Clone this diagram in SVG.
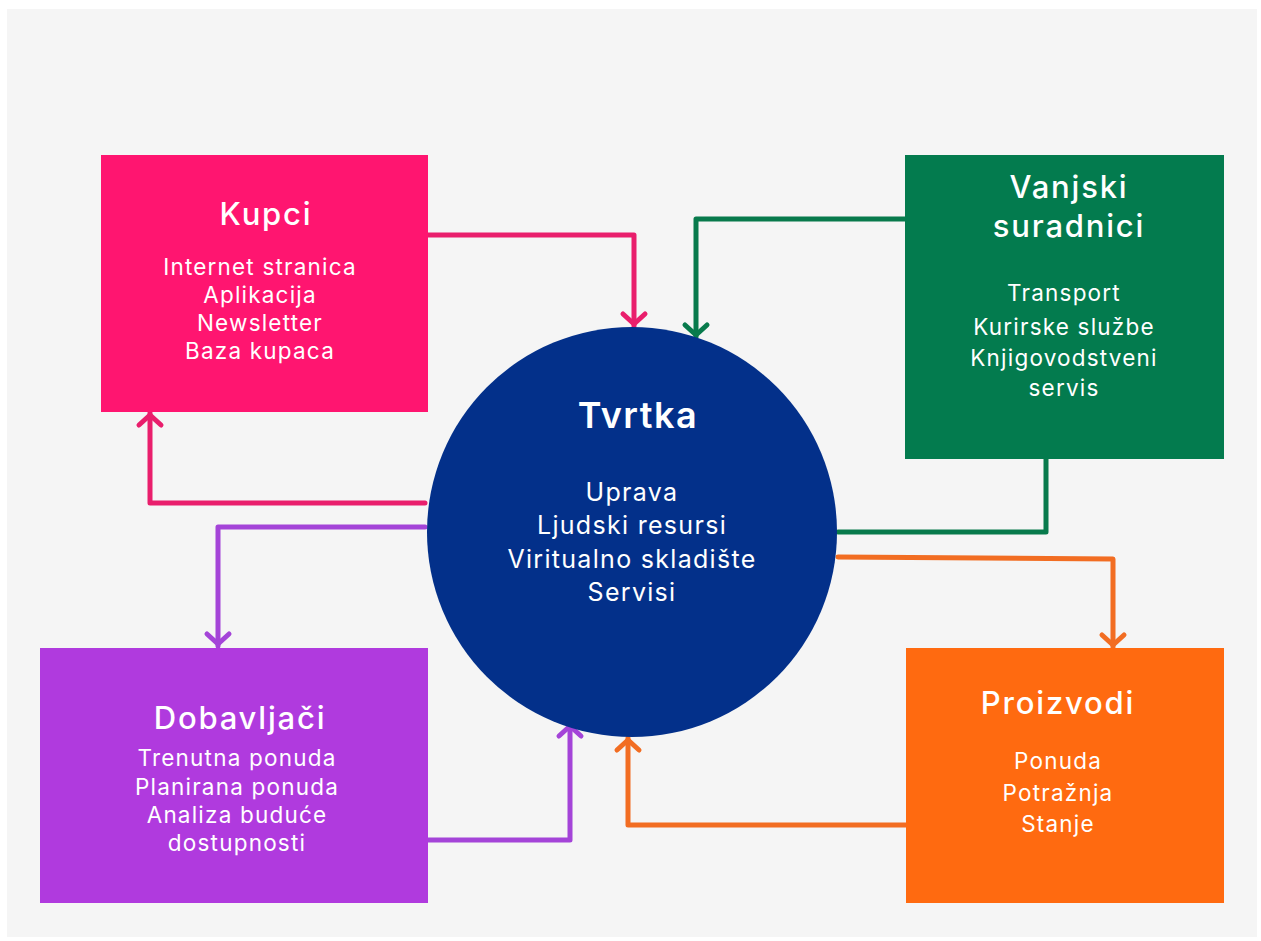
<svg xmlns="http://www.w3.org/2000/svg" width="1261" height="941" viewBox="0 0 1261 941">
<style>
.t{font-family:Inter,"Open Sans","Liberation Sans",sans-serif;fill:#fff;text-anchor:middle}
.h{font-size:31px;font-weight:500;letter-spacing:1.8px}
.b{font-size:22.5px;font-weight:400;letter-spacing:1.2px}
.m{font-size:25px;letter-spacing:1.3px}
.c{fill:none;stroke-width:5;stroke-linejoin:round;stroke-linecap:round}
</style>
<defs>
<marker id="mp" markerUnits="userSpaceOnUse" viewBox="-16 -16 20 32" refX="0" refY="0" markerWidth="20" markerHeight="32" orient="auto"><path d="M-12,-11 L-2,0 L-12,11" fill="none" stroke="#e91e6c" stroke-width="5" stroke-linecap="round" stroke-linejoin="round"/></marker>
<marker id="mg" markerUnits="userSpaceOnUse" viewBox="-16 -16 20 32" refX="0" refY="0" markerWidth="20" markerHeight="32" orient="auto"><path d="M-12,-11 L-2,0 L-12,11" fill="none" stroke="#087a4c" stroke-width="5" stroke-linecap="round" stroke-linejoin="round"/></marker>
<marker id="mv" markerUnits="userSpaceOnUse" viewBox="-16 -16 20 32" refX="0" refY="0" markerWidth="20" markerHeight="32" orient="auto"><path d="M-12,-11 L-2,0 L-12,11" fill="none" stroke="#a444d8" stroke-width="5" stroke-linecap="round" stroke-linejoin="round"/></marker>
<marker id="mo" markerUnits="userSpaceOnUse" viewBox="-16 -16 20 32" refX="0" refY="0" markerWidth="20" markerHeight="32" orient="auto"><path d="M-12,-11 L-2,0 L-12,11" fill="none" stroke="#f26d22" stroke-width="5" stroke-linecap="round" stroke-linejoin="round"/></marker>
</defs>
<rect x="0" y="0" width="1261" height="941" fill="#ffffff"/>
<rect x="7" y="9" width="1250" height="928" fill="#f5f5f5"/>

<g id="connectors">
<path class="c" stroke="#e91e6c" d="M428,235 H634 V326" marker-end="url(#mp)"/>
<path class="c" stroke="#e91e6c" d="M425,503 H150 V413" marker-end="url(#mp)"/>
<path class="c" stroke="#a444d8" d="M425,527 H218 V646" marker-end="url(#mv)"/>
<path class="c" stroke="#a444d8" d="M428,840 H570 V724" marker-end="url(#mv)"/>
<path class="c" stroke="#087a4c" d="M906,219 H696 V337" marker-end="url(#mg)"/>
<path class="c" stroke="#087a4c" d="M838,532 H1046 V459"/>
<path class="c" stroke="#f26d22" d="M838,557 L1113,559 V647" marker-end="url(#mo)"/>
<path class="c" stroke="#f26d22" d="M906,825 H628 V738" marker-end="url(#mo)"/>
</g>

<g id="kupci">
<rect x="101" y="155" width="327" height="257" fill="#ff1570"/>
<text class="t h" x="266" y="225">Kupci</text>
<text class="t b" x="260" y="275">Internet stranica</text>
<text class="t b" x="260" y="303">Aplikacija</text>
<text class="t b" x="260" y="331">Newsletter</text>
<text class="t b" x="260" y="359">Baza kupaca</text>
</g>

<g id="vanjski">
<rect x="905" y="155" width="319" height="304" fill="#037b4e"/>
<text class="t h" x="1069" y="198">Vanjski</text>
<text class="t h" x="1069" y="237">suradnici</text>
<text class="t b" x="1064" y="301">Transport</text>
<text class="t b" x="1064" y="335">Kurirske službe</text>
<text class="t b" x="1064" y="366">Knjigovodstveni</text>
<text class="t b" x="1064" y="396">servis</text>
</g>

<g id="tvrtka">
<circle cx="632" cy="532" r="205" fill="#03308a"/>
<text class="t" x="638" y="428" font-size="36" font-weight="600" letter-spacing="1.5">Tvrtka</text>
<text class="t b m" x="632" y="501">Uprava</text>
<text class="t b m" x="632" y="534">Ljudski resursi</text>
<text class="t b m" x="632" y="568">Viritualno skladište</text>
<text class="t b m" x="632" y="601">Servisi</text>
</g>

<g id="dobavljaci">
<rect x="40" y="648" width="388" height="255" fill="#b03ade"/>
<text class="t h" x="240" y="729">Dobavljači</text>
<text class="t b" x="237" y="766">Trenutna ponuda</text>
<text class="t b" x="237" y="795">Planirana ponuda</text>
<text class="t b" x="237" y="823">Analiza buduće</text>
<text class="t b" x="237" y="851">dostupnosti</text>
</g>

<g id="proizvodi">
<rect x="906" y="648" width="318" height="255" fill="#ff6a10"/>
<text class="t h" x="1058" y="714">Proizvodi</text>
<text class="t b" x="1058" y="769">Ponuda</text>
<text class="t b" x="1058" y="801">Potražnja</text>
<text class="t b" x="1058" y="832">Stanje</text>
</g>
</svg>
